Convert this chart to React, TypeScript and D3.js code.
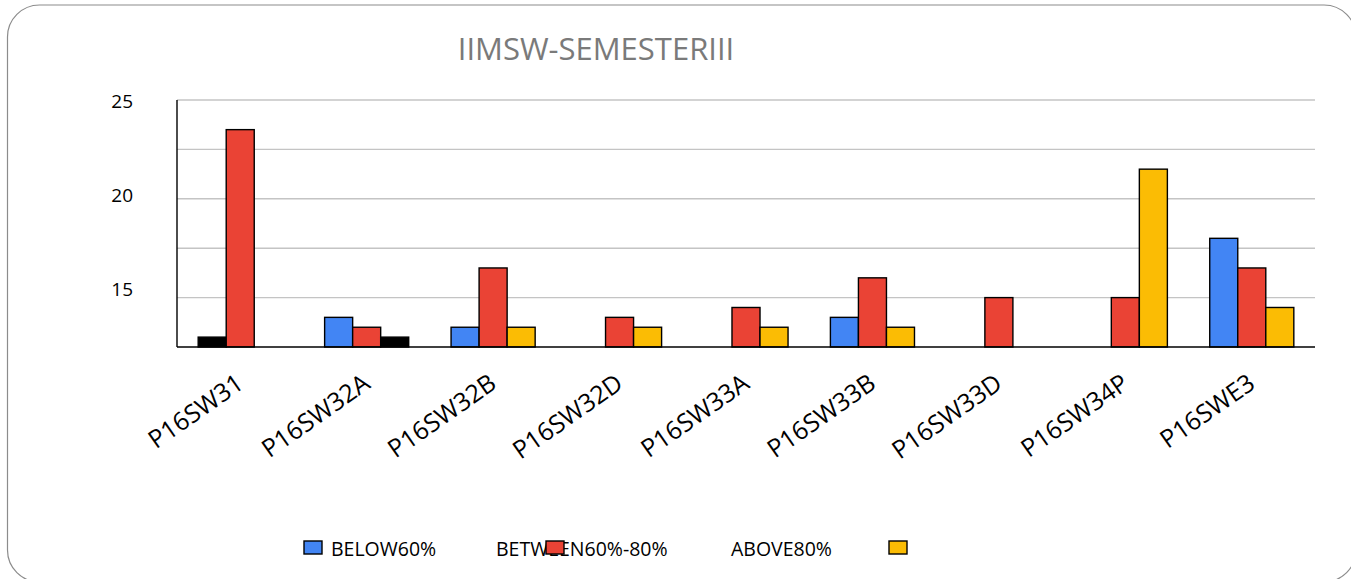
import React from 'react';
import * as d3 from 'd3';

const categories = ['P16SW31', 'P16SW32A', 'P16SW32B', 'P16SW32D', 'P16SW33A', 'P16SW33B', 'P16SW33D', 'P16SW34P', 'P16SWE3'];
const seriesNames = ['BELOW60%', 'BETWEEN60%-80%', 'ABOVE80%'];
const below60 = [13, 14, 13.5, null, null, 14, null, null, 18];
const between60to80 = [23.5, 13.5, 16.5, 14, 14.5, 16, 15, 15, 16.5];
const above80 = [null, 13, 13.5, 13.5, 13.5, 13.5, null, 21.5, 14.5];
const yTicks = [15, 20, 25];
const gridValues = [15, 17.5, 20, 22.5, 25];
// bars that came out with no fill colour (drawn black)
const unfilled = [
  { cat: 'P16SW31', series: 'BELOW60%' },
  { cat: 'P16SW32A', series: 'ABOVE80%' },
];

const colors = ['#4285f4', '#ea4335', '#fbbc04'];
const W = 1351;
const H = 579;
const font = "'Open Sans', sans-serif";

const App = () => {
  const margin = { top: 100, right: 36, bottom: 232, left: 177 };
  const y = d3.scaleLinear().domain([12.5, 25]).range([H - margin.bottom, margin.top]);
  // the value labels sit slightly off the grid lines in the original
  const yLabel = d3.scaleLinear().domain([15, 25]).range([289, 101.5]);
  const x0 = d3.scaleBand().domain(categories).range([margin.left, W - margin.right])
    .paddingInner(0.335).paddingOuter(0.1675);
  const x1 = d3.scaleBand().domain(seriesNames).range([0, x0.bandwidth()]);

  const all = [below60, between60to80, above80];
  const bars = [];
  categories.forEach((c, i) => {
    seriesNames.forEach((s, j) => {
      const v = all[j][i];
      if (v == null) return;
      const black = unfilled.some(u => u.cat === c && u.series === s);
      bars.push({ c, s, v, fill: black ? '#000' : colors[j] });
    });
  });

  const baseY = y(12.5);
  const x2 = W - margin.right;

  return (
    <div style={{ position: 'absolute', left: 0, top: 0 }}>
      <svg width={W} height={H} style={{ display: 'block', background: '#fff' }}>
        <rect x={7.5} y={5} width={1348.5} height={577} rx={32} fill="#fff" stroke="#8c8c8c" strokeWidth={1.2} />

        <text x={596} y={60} textAnchor="middle" fontFamily={font} fontSize={31} fill="#7a7a7a">
          IIMSW-SEMESTERIII
        </text>

        {gridValues.map(v => (
          <line key={v} x1={margin.left} x2={x2} y1={y(v)} y2={y(v)} stroke="#c4c4c4" strokeWidth={1.4} />
        ))}

        {yTicks.map(v => (
          <text key={v} x={133} y={yLabel(v)} dy="0.35em" textAnchor="end" fontFamily={font} fontSize={19} fill="#000">
            {v}
          </text>
        ))}

        {bars.map(b => (
          <rect
            key={b.c + b.s}
            x={x0(b.c) + x1(b.s)}
            y={y(b.v)}
            width={x1.bandwidth()}
            height={baseY - y(b.v)}
            fill={b.fill}
            stroke="#000"
            strokeWidth={1.4}
          />
        ))}

        <line x1={margin.left} x2={x2} y1={baseY} y2={baseY} stroke="#000" strokeWidth={1.4} />
        <line x1={margin.left} x2={margin.left} y1={margin.top} y2={baseY} stroke="#000" strokeWidth={1.4} />

        {categories.map(c => (
          <text key={c} transform={`translate(${x0(c) + x0.bandwidth() / 2 + 5},${387}) rotate(-35)`} textAnchor="end"
            fontFamily={font} fontSize={25} fill="#000">
            {c}
          </text>
        ))}

        {/* legend, as laid out (overlapping) in the original */}
        <g fontFamily={font} fontSize={19.5} fill="#000">
          <rect x={304} y={541} width={18} height={13} fill={colors[0]} stroke="#000" strokeWidth={1.4} />
          <text x={331} y={549} dy="0.35em">{seriesNames[0]}</text>
          <text x={496} y={549} dy="0.35em">{seriesNames[1]}</text>
          <rect x={546} y={541} width={18} height={13} fill={colors[1]} stroke="#000" strokeWidth={1.4} />
          <text x={731} y={549} dy="0.35em">{seriesNames[2]}</text>
          <rect x={889} y={541} width={18} height={13} fill={colors[2]} stroke="#000" strokeWidth={1.4} />
        </g>
      </svg>
    </div>
  );
};

export default App;
